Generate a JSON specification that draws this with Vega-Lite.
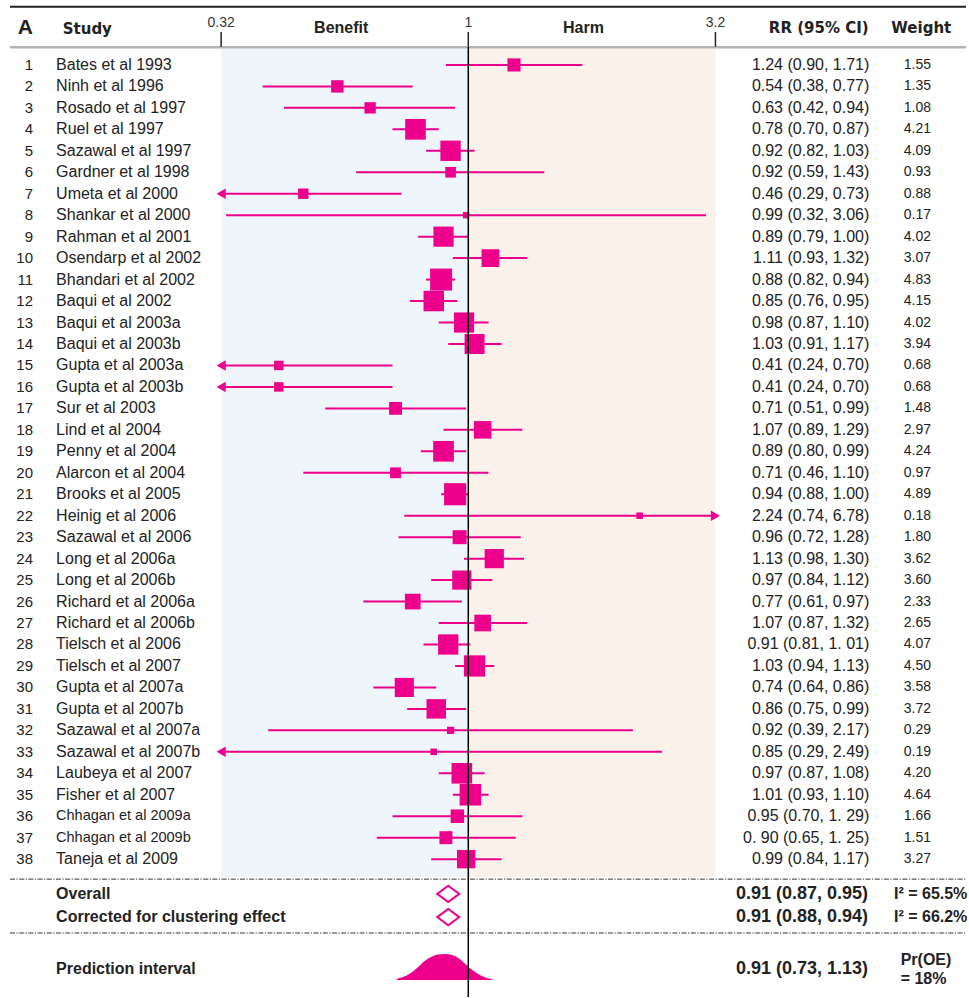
{
"$schema":"https://vega.github.io/schema/vega-lite/v6.json",
"width":969,"height":998,"padding":0,
"autosize":{"type":"fit","contains":"padding"},
"background":"white",
"config":{"view":{"stroke":null},"text":{"font":"Liberation Sans","color":"#222"}},
"datasets":{
"studies":[
{"num":1,"study":"Bates et al 1993","rr":1.24,"lo":0.90,"hi":1.71,"weight":1.55,"ci":"1.24 (0.90, 1.71)"},
{"num":2,"study":"Ninh et al 1996","rr":0.54,"lo":0.38,"hi":0.77,"weight":1.35,"ci":"0.54 (0.38, 0.77)"},
{"num":3,"study":"Rosado et al 1997","rr":0.63,"lo":0.42,"hi":0.94,"weight":1.08,"ci":"0.63 (0.42, 0.94)"},
{"num":4,"study":"Ruel et al 1997","rr":0.78,"lo":0.70,"hi":0.87,"weight":4.21,"ci":"0.78 (0.70, 0.87)"},
{"num":5,"study":"Sazawal et al 1997","rr":0.92,"lo":0.82,"hi":1.03,"weight":4.09,"ci":"0.92 (0.82, 1.03)"},
{"num":6,"study":"Gardner et al 1998","rr":0.92,"lo":0.59,"hi":1.43,"weight":0.93,"ci":"0.92 (0.59, 1.43)"},
{"num":7,"study":"Umeta et al 2000","rr":0.46,"lo":0.29,"hi":0.73,"weight":0.88,"ci":"0.46 (0.29, 0.73)"},
{"num":8,"study":"Shankar et al 2000","rr":0.99,"lo":0.32,"hi":3.06,"weight":0.17,"ci":"0.99 (0.32, 3.06)"},
{"num":9,"study":"Rahman et al 2001","rr":0.89,"lo":0.79,"hi":1.00,"weight":4.02,"ci":"0.89 (0.79, 1.00)"},
{"num":10,"study":"Osendarp et al 2002","rr":1.11,"lo":0.93,"hi":1.32,"weight":3.07,"ci":"1.11 (0.93, 1.32)"},
{"num":11,"study":"Bhandari et al 2002","rr":0.88,"lo":0.82,"hi":0.94,"weight":4.83,"ci":"0.88 (0.82, 0.94)"},
{"num":12,"study":"Baqui et al 2002","rr":0.85,"lo":0.76,"hi":0.95,"weight":4.15,"ci":"0.85 (0.76, 0.95)"},
{"num":13,"study":"Baqui et al 2003a","rr":0.98,"lo":0.87,"hi":1.10,"weight":4.02,"ci":"0.98 (0.87, 1.10)"},
{"num":14,"study":"Baqui et al 2003b","rr":1.03,"lo":0.91,"hi":1.17,"weight":3.94,"ci":"1.03 (0.91, 1.17)"},
{"num":15,"study":"Gupta et al 2003a","rr":0.41,"lo":0.24,"hi":0.70,"weight":0.68,"ci":"0.41 (0.24, 0.70)"},
{"num":16,"study":"Gupta et al 2003b","rr":0.41,"lo":0.24,"hi":0.70,"weight":0.68,"ci":"0.41 (0.24, 0.70)"},
{"num":17,"study":"Sur et al 2003","rr":0.71,"lo":0.51,"hi":0.99,"weight":1.48,"ci":"0.71 (0.51, 0.99)"},
{"num":18,"study":"Lind et al 2004","rr":1.07,"lo":0.89,"hi":1.29,"weight":2.97,"ci":"1.07 (0.89, 1.29)"},
{"num":19,"study":"Penny et al 2004","rr":0.89,"lo":0.80,"hi":0.99,"weight":4.24,"ci":"0.89 (0.80, 0.99)"},
{"num":20,"study":"Alarcon et al 2004","rr":0.71,"lo":0.46,"hi":1.10,"weight":0.97,"ci":"0.71 (0.46, 1.10)"},
{"num":21,"study":"Brooks et al 2005","rr":0.94,"lo":0.88,"hi":1.00,"weight":4.89,"ci":"0.94 (0.88, 1.00)"},
{"num":22,"study":"Heinig et al 2006","rr":2.24,"lo":0.74,"hi":6.78,"weight":0.18,"ci":"2.24 (0.74, 6.78)"},
{"num":23,"study":"Sazawal et al 2006","rr":0.96,"lo":0.72,"hi":1.28,"weight":1.80,"ci":"0.96 (0.72, 1.28)"},
{"num":24,"study":"Long et al 2006a","rr":1.13,"lo":0.98,"hi":1.30,"weight":3.62,"ci":"1.13 (0.98, 1.30)"},
{"num":25,"study":"Long et al 2006b","rr":0.97,"lo":0.84,"hi":1.12,"weight":3.60,"ci":"0.97 (0.84, 1.12)"},
{"num":26,"study":"Richard et al 2006a","rr":0.77,"lo":0.61,"hi":0.97,"weight":2.33,"ci":"0.77 (0.61, 0.97)"},
{"num":27,"study":"Richard et al 2006b","rr":1.07,"lo":0.87,"hi":1.32,"weight":2.65,"ci":"1.07 (0.87, 1.32)"},
{"num":28,"study":"Tielsch et al 2006","rr":0.91,"lo":0.81,"hi":1.01,"weight":4.07,"ci":"0.91  (0.81, 1. 01)"},
{"num":29,"study":"Tielsch et al 2007","rr":1.03,"lo":0.94,"hi":1.13,"weight":4.50,"ci":"1.03 (0.94, 1.13)"},
{"num":30,"study":"Gupta et al 2007a","rr":0.74,"lo":0.64,"hi":0.86,"weight":3.58,"ci":"0.74 (0.64, 0.86)"},
{"num":31,"study":"Gupta et al 2007b","rr":0.86,"lo":0.75,"hi":0.99,"weight":3.72,"ci":"0.86 (0.75, 0.99)"},
{"num":32,"study":"Sazawal et al 2007a","rr":0.92,"lo":0.39,"hi":2.17,"weight":0.29,"ci":"0.92 (0.39, 2.17)"},
{"num":33,"study":"Sazawal et al 2007b","rr":0.85,"lo":0.29,"hi":2.49,"weight":0.19,"ci":"0.85 (0.29, 2.49)"},
{"num":34,"study":"Laubeya et al 2007","rr":0.97,"lo":0.87,"hi":1.08,"weight":4.20,"ci":"0.97 (0.87, 1.08)"},
{"num":35,"study":"Fisher et al 2007","rr":1.01,"lo":0.93,"hi":1.10,"weight":4.64,"ci":"1.01 (0.93, 1.10)"},
{"num":36,"study":"Chhagan et al 2009a","rr":0.95,"lo":0.70,"hi":1.29,"weight":1.66,"ci":"0.95 (0.70, 1. 29)"},
{"num":37,"study":"Chhagan et al 2009b","rr":0.90,"lo":0.65,"hi":1.25,"weight":1.51,"ci":"0. 90 (0.65, 1. 25)"},
{"num":38,"study":"Taneja et al 2009","rr":0.99,"lo":0.84,"hi":1.17,"weight":3.27,"ci":"0.99 (0.84, 1.17)"}
],
"summary":[
{"label":"Overall","kind":"diamond","row":39.62,"rr":0.91,"lo":0.87,"hi":0.95,"ci":"0.91 (0.87, 0.95)","note":"I² = 65.5%"},
{"label":"Corrected for clustering effect","kind":"diamond","row":40.7,"rr":0.91,"lo":0.88,"hi":0.94,"ci":"0.91 (0.88, 0.94)","note":"I² = 66.2%"},
{"label":"Prediction interval","kind":"pi","row":43.12,"rr":0.91,"lo":0.73,"hi":1.13,"ci":"0.91 (0.73, 1.13)","note":"Pr(OE)\n= 18%"}
],
"ticks":[
{"v":0.3125,"label":"0.32"},
{"v":1,"label":"1"},
{"v":3.2,"label":"3.2"}
],
"curve":[
{"rr":0.712,"dens":0.0},
{"rr":0.7151,"dens":0.03},
{"rr":0.7355,"dens":0.115},
{"rr":0.7602,"dens":0.25},
{"rr":0.7857,"dens":0.46},
{"rr":0.8117,"dens":0.71},
{"rr":0.839,"dens":0.885},
{"rr":0.8671,"dens":0.98},
{"rr":0.8963,"dens":1.0},
{"rr":0.9262,"dens":0.96},
{"rr":0.9572,"dens":0.83},
{"rr":0.9892,"dens":0.6},
{"rr":1.0224,"dens":0.365},
{"rr":1.0566,"dens":0.19},
{"rr":1.0869,"dens":0.09},
{"rr":1.118,"dens":0.03},
{"rr":1.122,"dens":0.0}
]
},
"layer":[
{"layer":[
{"data":{"values":[{}]},"mark":{"type":"rect","color":"#EEF6FC"},
 "encoding":{"x":{"datum":0.3125,"type":"quantitative","scale":{"type":"log","domain":[0.11039,10.552],"nice":false},"axis":null},"x2":{"datum":1},
 "y":{"datum":0.232,"type":"quantitative","scale":{"domain":[-2.025,44.422],"nice":false,"zero":false,"reverse":true},"axis":null},"y2":{"datum":38.837}}},
{"data":{"values":[{}]},"mark":{"type":"rect","color":"#FBF1EB"},
 "encoding":{"x":{"datum":1,"type":"quantitative","scale":{"type":"log","domain":[0.11039,10.552],"nice":false},"axis":null},"x2":{"datum":3.2},
 "y":{"datum":0.232,"type":"quantitative","scale":{"domain":[-2.025,44.422],"nice":false,"zero":false,"reverse":true},"axis":null},"y2":{"datum":38.837}}},
{"data":{"values":[{}]},"mark":{"type":"rule","color":"#222","strokeWidth":2},
 "encoding":{"x":{"datum":0.1157,"type":"quantitative","scale":{"type":"log","domain":[0.11039,10.552],"nice":false},"axis":null},"x2":{"datum":10.403},
 "y":{"datum":-1.713,"type":"quantitative","scale":{"domain":[-2.025,44.422],"nice":false,"zero":false,"reverse":true},"axis":null}}},
{"data":{"values":[{}]},"mark":{"type":"rule","color":"#B3B3B3","strokeWidth":2.5},
 "encoding":{"x":{"datum":0.1157,"type":"quantitative","scale":{"type":"log","domain":[0.11039,10.552],"nice":false},"axis":null},"x2":{"datum":10.403},
 "y":{"datum":0.176,"type":"quantitative","scale":{"domain":[-2.025,44.422],"nice":false,"zero":false,"reverse":true},"axis":null}}},
{"data":{"name":"ticks"},"mark":{"type":"rule","color":"#222","strokeWidth":1.5},
 "encoding":{"x":{"field":"v","type":"quantitative","scale":{"type":"log","domain":[0.11039,10.552],"nice":false},"axis":null},
 "y":{"datum":-0.536,"type":"quantitative","scale":{"domain":[-2.025,44.422],"nice":false,"zero":false,"reverse":true},"axis":null},"y2":{"datum":0.15}}},
{"data":{"name":"ticks"},"mark":{"type":"text","font":"Liberation Sans","fontSize":14,"color":"#333","align":"center","baseline":"alphabetic"},
 "encoding":{"x":{"field":"v","type":"quantitative","scale":{"type":"log","domain":[0.11039,10.552],"nice":false},"axis":null},
 "y":{"datum":-0.768,"type":"quantitative","scale":{"domain":[-2.025,44.422],"nice":false,"zero":false,"reverse":true},"axis":null},
 "text":{"field":"label","type":"nominal"}}},
{"data":{"values":[{}]},"mark":{"type":"rule","color":"#333","strokeWidth":1,"strokeDash":[5,1.5,1.2,1.5]},
 "encoding":{"x":{"datum":0.1157,"type":"quantitative","scale":{"type":"log","domain":[0.11039,10.552],"nice":false},"axis":null},"x2":{"datum":10.403},
 "y":{"datum":38.93,"type":"quantitative","scale":{"domain":[-2.025,44.422],"nice":false,"zero":false,"reverse":true},"axis":null}}},
{"data":{"values":[{}]},"mark":{"type":"rule","color":"#333","strokeWidth":1,"strokeDash":[5,1.5,1.2,1.5]},
 "encoding":{"x":{"datum":0.1157,"type":"quantitative","scale":{"type":"log","domain":[0.11039,10.552],"nice":false},"axis":null},"x2":{"datum":10.403},
 "y":{"datum":41.44,"type":"quantitative","scale":{"domain":[-2.025,44.422],"nice":false,"zero":false,"reverse":true},"axis":null}}},
{"data":{"values":[{}]},"mark":{"type":"text","text":"A","font":"Liberation Sans","fontWeight":"bold","fontSize":21,"align":"center","baseline":"middle"},
 "encoding":{"x":{"datum":0.1243,"type":"quantitative","scale":{"type":"log","domain":[0.11039,10.552],"nice":false},"axis":null},
 "y":{"datum":-0.74,"type":"quantitative","scale":{"domain":[-2.025,44.422],"nice":false,"zero":false,"reverse":true},"axis":null}}},
{"data":{"values":[{}]},"mark":{"type":"text","text":"Study","font":"DejaVu Sans","fontWeight":"bold","fontSize":15,"align":"left","baseline":"middle"},
 "encoding":{"x":{"datum":0.1483,"type":"quantitative","scale":{"type":"log","domain":[0.11039,10.552],"nice":false},"axis":null},
 "y":{"datum":-0.66,"type":"quantitative","scale":{"domain":[-2.025,44.422],"nice":false,"zero":false,"reverse":true},"axis":null}}},
{"data":{"values":[{}]},"mark":{"type":"text","text":"Benefit","font":"Liberation Sans","fontWeight":"bold","fontSize":16,"align":"center","baseline":"middle"},
 "encoding":{"x":{"datum":0.5499,"type":"quantitative","scale":{"type":"log","domain":[0.11039,10.552],"nice":false},"axis":null},
 "y":{"datum":-0.74,"type":"quantitative","scale":{"domain":[-2.025,44.422],"nice":false,"zero":false,"reverse":true},"axis":null}}},
{"data":{"values":[{}]},"mark":{"type":"text","text":"Harm","font":"Liberation Sans","fontWeight":"bold","fontSize":16,"align":"center","baseline":"middle"},
 "encoding":{"x":{"datum":1.7196,"type":"quantitative","scale":{"type":"log","domain":[0.11039,10.552],"nice":false},"axis":null},
 "y":{"datum":-0.74,"type":"quantitative","scale":{"domain":[-2.025,44.422],"nice":false,"zero":false,"reverse":true},"axis":null}}},
{"data":{"values":[{}]},"mark":{"type":"text","text":"RR (95% CI)","font":"DejaVu Sans","fontWeight":"bold","fontSize":15,"align":"right","baseline":"middle"},
 "encoding":{"x":{"datum":6.578,"type":"quantitative","scale":{"type":"log","domain":[0.11039,10.552],"nice":false},"axis":null},
 "y":{"datum":-0.74,"type":"quantitative","scale":{"domain":[-2.025,44.422],"nice":false,"zero":false,"reverse":true},"axis":null}}},
{"data":{"values":[{}]},"mark":{"type":"text","text":"Weight","font":"DejaVu Sans","fontWeight":"bold","fontSize":15,"align":"center","baseline":"middle"},
 "encoding":{"x":{"datum":8.4302,"type":"quantitative","scale":{"type":"log","domain":[0.11039,10.552],"nice":false},"axis":null},
 "y":{"datum":-0.74,"type":"quantitative","scale":{"domain":[-2.025,44.422],"nice":false,"zero":false,"reverse":true},"axis":null}}},
{"data":{"name":"studies"},"transform":[{"filter":"datum.lo >= 0.3125 && datum.hi <= 3.2"}],
 "mark":{"type":"rule","color":"#EC008C","strokeWidth":2},
 "encoding":{"x":{"field":"lo","type":"quantitative","scale":{"type":"log","domain":[0.11039,10.552],"nice":false},"axis":null},"x2":{"field":"hi"},
 "y":{"field":"num","type":"quantitative","scale":{"domain":[-2.025,44.422],"nice":false,"zero":false,"reverse":true},"axis":null}}},
{"data":{"name":"studies"},"transform":[{"filter":"datum.lo < 0.3125"}],
 "mark":{"type":"rule","color":"#EC008C","strokeWidth":2},
 "encoding":{"x":{"field":"hi","type":"quantitative","scale":{"type":"log","domain":[0.11039,10.552],"nice":false},"axis":null},"x2":{"datum":0.3125},
 "y":{"field":"num","type":"quantitative","scale":{"domain":[-2.025,44.422],"nice":false,"zero":false,"reverse":true},"axis":null}}},
{"data":{"name":"studies"},"transform":[{"filter":"datum.hi > 3.2"}],
 "mark":{"type":"rule","color":"#EC008C","strokeWidth":2},
 "encoding":{"x":{"field":"lo","type":"quantitative","scale":{"type":"log","domain":[0.11039,10.552],"nice":false},"axis":null},"x2":{"datum":3.2},
 "y":{"field":"num","type":"quantitative","scale":{"domain":[-2.025,44.422],"nice":false,"zero":false,"reverse":true},"axis":null}}},
{"data":{"name":"studies"},"transform":[{"filter":"datum.lo < 0.3125"}],
 "mark":{"type":"point","shape":"triangle-left","filled":true,"opacity":1,"size":110,"color":"#EC008C"},
 "encoding":{"x":{"datum":0.3125,"type":"quantitative","scale":{"type":"log","domain":[0.11039,10.552],"nice":false},"axis":null},
 "y":{"field":"num","type":"quantitative","scale":{"domain":[-2.025,44.422],"nice":false,"zero":false,"reverse":true},"axis":null}}},
{"data":{"name":"studies"},"transform":[{"filter":"datum.hi > 3.2"}],
 "mark":{"type":"point","shape":"triangle-right","filled":true,"opacity":1,"size":110,"color":"#EC008C"},
 "encoding":{"x":{"datum":3.2,"type":"quantitative","scale":{"type":"log","domain":[0.11039,10.552],"nice":false},"axis":null},
 "y":{"field":"num","type":"quantitative","scale":{"domain":[-2.025,44.422],"nice":false,"zero":false,"reverse":true},"axis":null}}},
{"data":{"name":"studies"},
 "mark":{"type":"square","opacity":1,"color":"#EC008C"},
 "encoding":{"x":{"field":"rr","type":"quantitative","scale":{"type":"log","domain":[0.11039,10.552],"nice":false},"axis":null},
 "y":{"field":"num","type":"quantitative","scale":{"domain":[-2.025,44.422],"nice":false,"zero":false,"reverse":true},"axis":null},
 "size":{"field":"weight","type":"quantitative","scale":{"domain":[0,5],"range":[25,500],"zero":false},"legend":null}}},
{"data":{"name":"studies"},
 "mark":{"type":"text","font":"Liberation Sans","fontSize":15,"align":"right","baseline":"middle"},
 "encoding":{"x":{"datum":0.12893,"type":"quantitative","scale":{"type":"log","domain":[0.11039,10.552],"nice":false},"axis":null},
 "y":{"field":"num","type":"quantitative","scale":{"domain":[-2.025,44.422],"nice":false,"zero":false,"reverse":true},"axis":null},
 "text":{"field":"num","type":"quantitative","format":"d"}}},
{"data":{"name":"studies"},"transform":[{"filter":"datum.num != 36 && datum.num != 37"}],
 "mark":{"type":"text","font":"Liberation Sans","fontSize":16,"align":"left","baseline":"middle"},
 "encoding":{"x":{"datum":0.14373,"type":"quantitative","scale":{"type":"log","domain":[0.11039,10.552],"nice":false},"axis":null},
 "y":{"field":"num","type":"quantitative","scale":{"domain":[-2.025,44.422],"nice":false,"zero":false,"reverse":true},"axis":null},
 "text":{"field":"study","type":"nominal"}}},
{"data":{"name":"studies"},"transform":[{"filter":"datum.num == 36 || datum.num == 37"}],
 "mark":{"type":"text","font":"Liberation Sans","fontSize":14.5,"align":"left","baseline":"middle"},
 "encoding":{"x":{"datum":0.14373,"type":"quantitative","scale":{"type":"log","domain":[0.11039,10.552],"nice":false},"axis":null},
 "y":{"field":"num","type":"quantitative","scale":{"domain":[-2.025,44.422],"nice":false,"zero":false,"reverse":true},"axis":null},
 "text":{"field":"study","type":"nominal"}}},
{"data":{"name":"studies"},
 "mark":{"type":"text","font":"Liberation Sans","fontSize":16,"align":"right","baseline":"middle"},
 "encoding":{"x":{"datum":6.6004,"type":"quantitative","scale":{"type":"log","domain":[0.11039,10.552],"nice":false},"axis":null},
 "y":{"field":"num","type":"quantitative","scale":{"domain":[-2.025,44.422],"nice":false,"zero":false,"reverse":true},"axis":null},
 "text":{"field":"ci","type":"nominal"}}},
{"data":{"name":"studies"},
 "mark":{"type":"text","font":"Liberation Sans","fontSize":14,"align":"right","baseline":"middle"},
 "encoding":{"x":{"datum":8.8265,"type":"quantitative","scale":{"type":"log","domain":[0.11039,10.552],"nice":false},"axis":null},
 "y":{"field":"num","type":"quantitative","scale":{"domain":[-2.025,44.422],"nice":false,"zero":false,"reverse":true},"axis":null},
 "text":{"field":"weight","type":"quantitative","format":".2f"}}},
{"data":{"name":"summary"},"transform":[{"filter":"datum.kind == 'diamond'"}],
 "mark":{"type":"point","shape":"M-1,0L0,-0.74L1,0L0,0.74Z","filled":true,"fill":"white","stroke":"#EC008C","strokeWidth":2,"opacity":1,"size":484},
 "encoding":{"x":{"field":"rr","type":"quantitative","scale":{"type":"log","domain":[0.11039,10.552],"nice":false},"axis":null},
 "y":{"field":"row","type":"quantitative","scale":{"domain":[-2.025,44.422],"nice":false,"zero":false,"reverse":true},"axis":null}}},
{"data":{"name":"summary"},
 "mark":{"type":"text","font":"Liberation Sans","fontWeight":"bold","fontSize":16,"align":"left","baseline":"middle"},
 "encoding":{"x":{"datum":0.14373,"type":"quantitative","scale":{"type":"log","domain":[0.11039,10.552],"nice":false},"axis":null},
 "y":{"field":"row","type":"quantitative","scale":{"domain":[-2.025,44.422],"nice":false,"zero":false,"reverse":true},"axis":null},
 "text":{"field":"label","type":"nominal"}}},
{"data":{"name":"summary"},
 "mark":{"type":"text","font":"Liberation Sans","fontWeight":"bold","fontSize":18,"align":"right","baseline":"middle"},
 "encoding":{"x":{"datum":6.5601,"type":"quantitative","scale":{"type":"log","domain":[0.11039,10.552],"nice":false},"axis":null},
 "y":{"field":"row","type":"quantitative","scale":{"domain":[-2.025,44.422],"nice":false,"zero":false,"reverse":true},"axis":null},
 "text":{"field":"ci","type":"nominal"}}},
{"data":{"name":"summary"},"transform":[{"filter":"datum.kind == 'diamond'"}],
 "mark":{"type":"text","font":"Liberation Sans","fontWeight":"bold","fontSize":16,"align":"left","baseline":"middle"},
 "encoding":{"x":{"datum":7.4131,"type":"quantitative","scale":{"type":"log","domain":[0.11039,10.552],"nice":false},"axis":null},
 "y":{"field":"row","type":"quantitative","scale":{"domain":[-2.025,44.422],"nice":false,"zero":false,"reverse":true},"axis":null},
 "text":{"field":"note","type":"nominal"}}},
{"data":{"name":"summary"},"transform":[{"filter":"datum.kind == 'pi'"}],
 "mark":{"type":"text","font":"Liberation Sans","fontWeight":"bold","fontSize":16,"align":"left","baseline":"middle","lineBreak":"\n","lineHeight":19,"dy":-9},
 "encoding":{"x":{"datum":7.6509,"type":"quantitative","scale":{"type":"log","domain":[0.11039,10.552],"nice":false},"axis":null},
 "y":{"field":"row","type":"quantitative","scale":{"domain":[-2.025,44.422],"nice":false,"zero":false,"reverse":true},"axis":null},
 "text":{"field":"note","type":"nominal"}}}
]},
{"data":{"name":"curve"},
 "mark":{"type":"area","color":"#EC008C","opacity":1,"interpolate":"monotone"},
 "encoding":{"x":{"field":"rr","type":"quantitative","scale":{"type":"log","domain":[0.11039,10.552],"nice":false},"axis":null},
 "y":{"field":"dens","type":"quantitative","scale":{"domain":[-0.6539,37.731],"nice":false,"zero":false},"axis":null}}},
{"data":{"values":[{}]},"mark":{"type":"rule","color":"#000","strokeWidth":1.5},
 "encoding":{"x":{"datum":1,"type":"quantitative","scale":{"type":"log","domain":[0.11039,10.552],"nice":false},"axis":null},
 "y":{"datum":0.162,"type":"quantitative","scale":{"domain":[-2.025,44.422],"nice":false,"zero":false,"reverse":true},"axis":null},"y2":{"datum":44.422}}}
],
"resolve":{"scale":{"y":"independent"}}
}
